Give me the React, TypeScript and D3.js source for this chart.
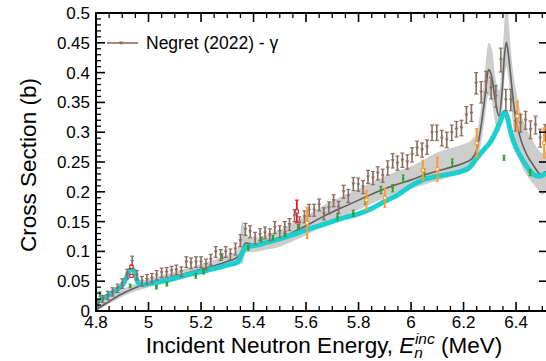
import React from "react";
import * as d3 from "d3";

// Evaluated cross section (line) and its uncertainty band
const evalE = [4.8, 4.85, 4.9, 4.95, 5.0, 5.05, 5.1, 5.15, 5.2, 5.25, 5.3, 5.33, 5.345, 5.357, 5.37, 5.385, 5.4, 5.45, 5.5, 5.55, 5.6, 5.65, 5.7, 5.75, 5.8, 5.85, 5.9, 5.95, 6.0, 6.05, 6.1, 6.15, 6.2, 6.23, 6.25, 6.27, 6.283, 6.295, 6.308, 6.322, 6.335, 6.347, 6.356, 6.363, 6.371, 6.38, 6.39, 6.4, 6.42, 6.44, 6.465, 6.49, 6.5, 6.514];
const evalV = [0.002, 0.016, 0.029, 0.039, 0.047, 0.052, 0.058, 0.064, 0.07, 0.076, 0.083, 0.088, 0.093, 0.103, 0.114, 0.113, 0.111, 0.115, 0.122, 0.132, 0.143, 0.155, 0.166, 0.176, 0.186, 0.196, 0.205, 0.213, 0.22, 0.228, 0.235, 0.241, 0.248, 0.255, 0.27, 0.32, 0.365, 0.405, 0.392, 0.35, 0.327, 0.37, 0.43, 0.451, 0.43, 0.393, 0.35, 0.32, 0.285, 0.263, 0.245, 0.23, 0.228, 0.234];
const evalLo = [0.0, 0.012, 0.024, 0.033, 0.04, 0.045, 0.05, 0.056, 0.062, 0.067, 0.074, 0.078, 0.08, 0.079, 0.098, 0.099, 0.099, 0.103, 0.108, 0.117, 0.127, 0.139, 0.15, 0.16, 0.17, 0.18, 0.19, 0.198, 0.205, 0.212, 0.219, 0.225, 0.232, 0.238, 0.25, 0.29, 0.33, 0.362, 0.35, 0.312, 0.3, 0.33, 0.39, 0.41, 0.39, 0.35, 0.305, 0.275, 0.245, 0.228, 0.213, 0.2, 0.195, 0.2];
const evalHi = [0.006, 0.022, 0.036, 0.046, 0.054, 0.06, 0.066, 0.072, 0.079, 0.086, 0.094, 0.099, 0.112, 0.15, 0.13, 0.124, 0.122, 0.128, 0.136, 0.148, 0.16, 0.173, 0.185, 0.195, 0.205, 0.216, 0.226, 0.235, 0.243, 0.254, 0.266, 0.273, 0.28, 0.287, 0.3, 0.355, 0.41, 0.45, 0.44, 0.39, 0.37, 0.42, 0.49, 0.53, 0.49, 0.44, 0.395, 0.37, 0.33, 0.305, 0.285, 0.268, 0.265, 0.27];

// High-resolution measurement (dense cyan trace)
const cyanE = [4.8, 4.82, 4.85, 4.88, 4.9, 4.915, 4.925, 4.935, 4.945, 4.955, 4.965, 4.98, 5.0, 5.05, 5.1, 5.15, 5.2, 5.25, 5.3, 5.34, 5.355, 5.37, 5.39, 5.42, 5.45, 5.5, 5.55, 5.6, 5.65, 5.7, 5.75, 5.8, 5.85, 5.9, 5.95, 6.0, 6.05, 6.1, 6.15, 6.19, 6.22, 6.25, 6.28, 6.3, 6.32, 6.34, 6.357, 6.367, 6.377, 6.39, 6.41, 6.43, 6.45, 6.47, 6.49, 6.514];
const cyanV = [0.014, 0.019, 0.027, 0.036, 0.043, 0.055, 0.066, 0.071, 0.067, 0.053, 0.045, 0.044, 0.046, 0.05, 0.055, 0.061, 0.066, 0.071, 0.077, 0.082, 0.095, 0.107, 0.109, 0.111, 0.115, 0.121, 0.128, 0.136, 0.143, 0.15, 0.157, 0.163, 0.172, 0.184, 0.195, 0.21, 0.221, 0.226, 0.23, 0.234, 0.24, 0.256, 0.272, 0.282, 0.298, 0.318, 0.334, 0.325, 0.305, 0.285, 0.265, 0.25, 0.237, 0.228, 0.226, 0.232];

// Negret (2022) - gamma
const negE = [4.808, 4.826, 4.845, 4.863, 4.882, 4.9, 4.919, 4.938, 4.956, 4.975, 4.994, 5.013, 5.031, 5.05, 5.069, 5.088, 5.106, 5.125, 5.144, 5.162, 5.181, 5.2, 5.219, 5.237, 5.256, 5.275, 5.294, 5.312, 5.331, 5.35, 5.369, 5.387, 5.406, 5.425, 5.444, 5.462, 5.481, 5.5, 5.519, 5.537, 5.556, 5.575, 5.594, 5.612, 5.631, 5.65, 5.668, 5.687, 5.705, 5.724, 5.743, 5.761, 5.78, 5.799, 5.817, 5.836, 5.855, 5.873, 5.892, 5.911, 5.93, 5.948, 5.967, 5.986, 6.004, 6.023, 6.042, 6.061, 6.08, 6.098, 6.117, 6.136, 6.155, 6.173, 6.192, 6.211, 6.23, 6.248, 6.267, 6.286, 6.305, 6.323, 6.342, 6.361, 6.38, 6.398, 6.417, 6.436, 6.455, 6.474, 6.492, 6.511];
const negV = [0.012, 0.02, 0.026, 0.032, 0.038, 0.046, 0.062, 0.083, 0.06, 0.05, 0.053, 0.055, 0.06, 0.064, 0.065, 0.067, 0.069, 0.066, 0.082, 0.08, 0.082, 0.082, 0.078, 0.086, 0.099, 0.094, 0.099, 0.095, 0.104, 0.118, 0.137, 0.133, 0.122, 0.128, 0.131, 0.128, 0.14, 0.133, 0.14, 0.145, 0.16, 0.148, 0.158, 0.169, 0.169, 0.178, 0.163, 0.173, 0.185, 0.174, 0.2, 0.193, 0.213, 0.212, 0.208, 0.225, 0.223, 0.231, 0.227, 0.24, 0.252, 0.248, 0.253, 0.25, 0.262, 0.273, 0.27, 0.275, 0.299, 0.299, 0.29, 0.287, 0.299, 0.305, 0.307, 0.329, 0.332, 0.382, 0.367, 0.384, 0.374, 0.36, 0.421, 0.354, 0.354, 0.318, 0.315, 0.32, 0.304, 0.312, 0.29, 0.298];
const negErr = [0.006, 0.006, 0.007, 0.007, 0.007, 0.008, 0.008, 0.009, 0.008, 0.008, 0.008, 0.008, 0.008, 0.008, 0.008, 0.008, 0.008, 0.008, 0.009, 0.009, 0.009, 0.009, 0.009, 0.009, 0.009, 0.009, 0.009, 0.009, 0.01, 0.01, 0.01, 0.01, 0.01, 0.01, 0.01, 0.01, 0.01, 0.01, 0.01, 0.01, 0.01, 0.01, 0.01, 0.01, 0.01, 0.01, 0.01, 0.01, 0.01, 0.01, 0.011, 0.011, 0.011, 0.011, 0.011, 0.011, 0.011, 0.011, 0.011, 0.012, 0.012, 0.012, 0.012, 0.012, 0.012, 0.012, 0.012, 0.012, 0.013, 0.013, 0.013, 0.013, 0.013, 0.013, 0.013, 0.014, 0.014, 0.018, 0.018, 0.018, 0.018, 0.018, 0.02, 0.018, 0.018, 0.016, 0.015, 0.015, 0.015, 0.015, 0.015, 0.015];

// Sparse measurement with small uncertainties (green)
const greenE = [4.815, 4.93, 5.03, 5.07, 5.18, 5.21, 5.28, 5.38, 5.43, 5.474, 5.52, 5.57, 5.72, 5.78, 5.826, 5.885, 5.93, 5.97, 6.05, 6.157, 6.354, 6.453];
const greenV = [0.028, 0.042, 0.04, 0.045, 0.059, 0.066, 0.092, 0.106, 0.12, 0.123, 0.129, 0.141, 0.158, 0.164, 0.185, 0.203, 0.206, 0.222, 0.232, 0.249, 0.257, 0.232];
const greenErr = [0.004, 0.003, 0.003, 0.003, 0.004, 0.004, 0.004, 0.004, 0.004, 0.004, 0.004, 0.004, 0.005, 0.005, 0.006, 0.006, 0.006, 0.006, 0.006, 0.006, 0.004, 0.005];

// Sparse measurement with large uncertainties (orange)
const orangeE = [5.604, 5.83, 5.9, 6.045, 6.1, 6.25, 6.405, 6.507];
const orangeV = [0.148, 0.186, 0.19, 0.236, 0.238, 0.282, 0.327, 0.282];
const orangeErr = [0.026, 0.016, 0.016, 0.017, 0.02, 0.024, 0.025, 0.025];

// Single points (red)
const redE = [4.935, 4.935, 5.565];
const redV = [0.074, 0.059, 0.167];
const redErr = [0.003, 0.002, 0.019];

const xMajor = [4.8, 5.0, 5.2, 5.4, 5.6, 5.8, 6.0, 6.2, 6.4];
const xMajorLabels = ["4.8", "5", "5.2", "5.4", "5.6", "5.8", "6", "6.2", "6.4"];
const yMajor = [0, 0.05, 0.1, 0.15, 0.2, 0.25, 0.3, 0.35, 0.4, 0.45, 0.5];
const yMajorLabels = ["0", "0.05", "0.1", "0.15", "0.2", "0.25", "0.3", "0.35", "0.4", "0.45", "0.5"];

const W = 546;
const H = 361;
const left = 96;
const right = 546;
const top = 13;
const bottom = 311;
const FONT = "'Liberation Sans', Arial, Helvetica, sans-serif";

export default function App() {
  const x = d3.scaleLinear().domain([4.8, 6.514]).range([left, right]);
  const y = d3.scaleLinear().domain([0, 0.5]).range([bottom, top]);

  const bandIdx = d3.range(evalE.length);
  const band = d3
    .area<number>()
    .x((i) => x(evalE[i]))
    .y0((i) => y(evalLo[i]))
    .y1((i) => y(evalHi[i]))
    .curve(d3.curveMonotoneX)(bandIdx);
  const evalLine = d3
    .line<number>()
    .x((i) => x(evalE[i]))
    .y((i) => y(evalV[i]))
    .curve(d3.curveMonotoneX)(bandIdx);
  const cyanLine = d3
    .line<number>()
    .x((i) => x(cyanE[i]))
    .y((i) => y(cyanV[i]))
    .curve(d3.curveMonotoneX)(d3.range(cyanE.length));

  const xMinor = d3.range(4.8, 6.52, 0.05).filter((v) => !xMajor.some((m) => Math.abs(m - v) < 1e-6));
  const yMinor = d3.range(0, 0.5001, 0.01).filter((v) => !yMajor.some((m) => Math.abs(m - v) < 1e-6));

  const errBars = (
    es: number[],
    vs: number[],
    errs: number[],
    color: string,
    cap: number,
    sw: number,
    marker: (cx: number, cy: number, k: number) => React.ReactNode
  ) =>
    es.map((e, i) => {
      const cx = x(e);
      const y0 = y(vs[i] - errs[i]);
      const y1 = y(vs[i] + errs[i]);
      return (
        <g key={i}>
          <line x1={cx} x2={cx} y1={y0} y2={y1} stroke={color} strokeWidth={sw} />
          <line x1={cx - cap} x2={cx + cap} y1={y0} y2={y0} stroke={color} strokeWidth={1.2} />
          <line x1={cx - cap} x2={cx + cap} y1={y1} y2={y1} stroke={color} strokeWidth={1.2} />
          {marker(cx, y(vs[i]), i)}
        </g>
      );
    });

  return (
    <svg width={W} height={H} style={{ position: "absolute", left: 0, top: 0 }} fontFamily={FONT}>
      <defs>
        <clipPath id="plotArea">
          <rect x={left} y={top} width={right - left} height={bottom - top} />
        </clipPath>
      </defs>
      <rect width={W} height={H} fill="#fff" />
      <g clipPath="url(#plotArea)">
        <path d={band ?? ""} fill="#cdcdcd" />
        <path d={evalLine ?? ""} fill="none" stroke="#5f5f5f" strokeWidth={1.6} />
        <path d={cyanLine ?? ""} fill="none" stroke="#1ccfcf" strokeWidth={5} />
        {errBars(greenE, greenV, greenErr, "#2ca02c", 1.5, 1.5, (cx, cy, k) => (
          <rect key={k} x={cx - 1.2} y={cy - 1.2} width={2.4} height={2.4} fill="#2ca02c" />
        ))}
        {errBars(negE, negV, negErr, "#8c6d62", 2, 1.6, (cx, cy, k) => (
          <path key={k} d={`M${cx - 2},${cy - 1.5}L${cx + 2},${cy - 1.5}L${cx},${cy + 1.8}Z`} fill="#8c6d62" />
        ))}
        {errBars(orangeE, orangeV, orangeErr, "#ff9a2e", 1.6, 2, (cx, cy, k) => (
          <rect key={k} x={cx - 1.5} y={cy - 1.5} width={3} height={3} fill="#fff" stroke="#ff9a2e" strokeWidth={1} />
        ))}
        {errBars(redE, redV, redErr, "#e8171b", 1.8, 1.8, (cx, cy, k) => (
          <rect key={k} x={cx - 1.6} y={cy - 1.6} width={3.2} height={3.2} fill="#fff" stroke="#e8171b" strokeWidth={1} />
        ))}
      </g>

      {/* frame */}
      <line x1={left} x2={left} y1={top - 1} y2={bottom + 1} stroke="#000" strokeWidth={2} />
      <line x1={left - 1} x2={right} y1={bottom} y2={bottom} stroke="#000" strokeWidth={2} />
      <line x1={left - 1} x2={right} y1={top} y2={top} stroke="#000" strokeWidth={2} />

      {/* x ticks, bottom and top */}
      {xMajor.map((v) => (
        <g key={"xm" + v}>
          <line x1={x(v)} x2={x(v)} y1={bottom} y2={bottom - 9} stroke="#000" strokeWidth={1.6} />
          <line x1={x(v)} x2={x(v)} y1={top} y2={top + 9} stroke="#000" strokeWidth={1.6} />
        </g>
      ))}
      {xMinor.map((v) => (
        <g key={"xn" + v}>
          <line x1={x(v)} x2={x(v)} y1={bottom} y2={bottom - 5} stroke="#000" strokeWidth={1.3} />
          <line x1={x(v)} x2={x(v)} y1={top} y2={top + 5} stroke="#000" strokeWidth={1.3} />
        </g>
      ))}
      {xMajor.map((v, i) => (
        <text key={"xl" + v} x={x(v)} y={328} textAnchor="middle" fontSize={17} fill="#000">
          {xMajorLabels[i]}
        </text>
      ))}

      {/* y ticks, left and right */}
      {yMajor.map((v) => (
        <g key={"ym" + v}>
          <line x1={left} x2={left + 9} y1={y(v)} y2={y(v)} stroke="#000" strokeWidth={1.6} />
          <line x1={right} x2={right - 7} y1={y(v)} y2={y(v)} stroke="#000" strokeWidth={1.6} />
        </g>
      ))}
      {yMinor.map((v) => (
        <line key={"yn" + v} x1={left} x2={left + 5} y1={y(v)} y2={y(v)} stroke="#000" strokeWidth={1.3} />
      ))}
      {yMajor.map((v, i) => (
        <text key={"yl" + v} x={90} y={y(v) + 6} textAnchor="end" fontSize={17} fill="#000">
          {yMajorLabels[i]}
        </text>
      ))}

      {/* axis titles */}
      <text x={28} y={165} transform="rotate(-90 28 165)" textAnchor="middle" dominantBaseline="central" fontSize={22.5} fill="#000">
        Cross Section (b)
      </text>
      <text x={324} y={353} textAnchor="middle" fontSize={22.5} fill="#000">
        Incident Neutron Energy,{" "}
        <tspan fontStyle="italic">E</tspan>
        <tspan fontStyle="italic" fontSize={15.5} dy={5}>n</tspan>
        <tspan fontStyle="italic" fontSize={15.5} dx={-8} dy={-14}>inc</tspan>
        <tspan dy={9}> (MeV)</tspan>
      </text>

      {/* legend */}
      <line x1={107} x2={138} y1={43} y2={43} stroke="#a3877c" strokeWidth={2} />
      <path d="M119,41.5L123,41.5L121,45Z" fill="#8c6d62" />
      <text x={146} y={49} fontSize={17.5} fill="#000">
        Negret (2022) - γ
      </text>
    </svg>
  );
}
